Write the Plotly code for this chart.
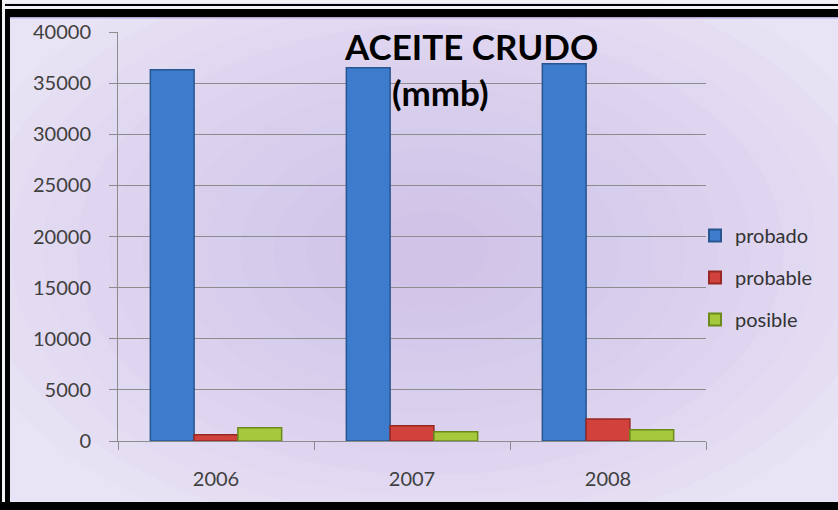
import plotly.graph_objects as go

# Reservas de aceite crudo (millones de barriles)
years = ["2006", "2007", "2008"]
probado = [36300, 36500, 36900]
probable = [600, 1500, 2150]
posible = [1300, 900, 1100]

series = [
    ("probado", probado, "#3d7ccc", "#285690"),
    ("probable", probable, "#d2423d", "#982824"),
    ("posible", posible, "#a6c83c", "#6a8a1c"),
]

W, H = 838, 510
L, R, T, B = 118, 132, 32, 69
PW, PH = W - L - R, H - T - B


def px(x):
    return (x - L) / PW


def py(y):
    return (H - B - y) / PH


fig = go.Figure()
for name, vals, fill, edge in series:
    fig.add_trace(go.Bar(
        x=years, y=vals, name=name,
        marker=dict(color=fill, line=dict(color=edge, width=1.5)),
        legendgroup=name,
    ))

shapes = []
# soft radial lavender glow in the middle of the chart area
n = 14
cx, cy = 430, 250
for k in range(n):
    f = 1 - k / n
    rx, ry = 460 * f + 25, 290 * f + 18
    shapes.append(dict(
        type="circle", xref="paper", yref="paper", layer="below",
        x0=px(cx - rx), x1=px(cx + rx), y0=py(cy + ry), y1=py(cy - ry),
        fillcolor="#a474d2", opacity=0.024, line=dict(width=0),
    ))


# black frame around the chart
def rect(x0, y0, x1, y1, color="black"):
    shapes.append(dict(
        type="rect", xref="paper", yref="paper", layer="above",
        x0=px(x0), x1=px(x1), y0=py(y1), y1=py(y0),
        fillcolor=color, line=dict(width=0),
    ))


rect(0, 0, W, 3, "#f4f2f6")
rect(0, 4, W, 6)
rect(0, 6, W, 9, "#f4f2f6")
rect(0, 9, W, 17)
rect(0, 0, 2, H)
rect(2, 0, 5, H, "#f4f2f6")
rect(5, 9, 10, H)
rect(0, 502, W, H)
rect(10, 17, W, 18.5, "#b8a8d8")

fig.update_layout(
    width=W, height=H,
    margin=dict(l=L, r=R, t=T, b=B),
    paper_bgcolor="#e9e4f5",
    plot_bgcolor="rgba(0,0,0,0)",
    barmode="group", bargap=0.33, bargroupgap=0,
    font=dict(family="Lato, sans-serif", color="#404040"),
    shapes=shapes,
    showlegend=True,
    legend=dict(
        x=px(695), y=py(216), xanchor="left", yanchor="top",
        bgcolor="rgba(0,0,0,0)", font=dict(size=20, color="#333333"),
        tracegroupgap=13, itemsizing="constant",
    ),
    annotations=[
        dict(text="<b>ACEITE CRUDO</b>", x=px(471), y=py(46), xref="paper", yref="paper",
             showarrow=False, font=dict(size=35, color="black", family="Lato, sans-serif"),
             xanchor="center", yanchor="middle"),
        dict(text="<b>(mmb)</b>", x=px(440), y=py(92), xref="paper", yref="paper",
             showarrow=False, font=dict(size=35, color="black", family="Lato, sans-serif"),
             xanchor="center", yanchor="middle"),
    ],
)

fig.update_yaxes(
    range=[0, 40000], dtick=5000, tickformat="d",
    showgrid=True, gridcolor="#8c8c8c", gridwidth=1,
    showline=True, linecolor="#8c8c8c", linewidth=1,
    ticks="outside", ticklen=8, tickcolor="#8c8c8c",
    tickfont=dict(size=20, color="#404040"), ticklabelstandoff=14,
    zeroline=False,
)
fig.update_xaxes(
    showline=True, linecolor="#8c8c8c", linewidth=1,
    ticks="outside", ticklen=8, tickcolor="#8c8c8c", tickson="boundaries",
    tickfont=dict(size=20, color="#404040"), ticklabelstandoff=20,
)

fig.write_html("out.html")
